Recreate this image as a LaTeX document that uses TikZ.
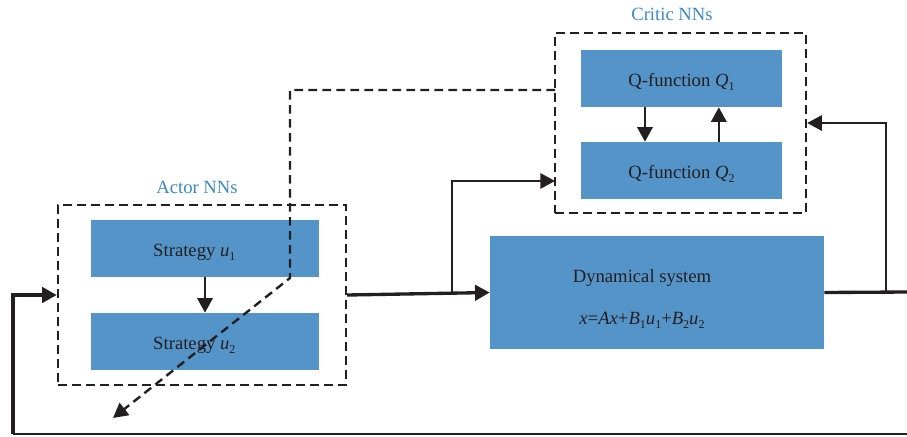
\documentclass[tikz,border=0pt]{standalone}
\usepackage{fontspec}
\setmainfont{Liberation Serif}
\usepackage{tikz}
\usetikzlibrary{arrows.meta,positioning}
\definecolor{nnBlue}{HTML}{5594C9}
\definecolor{nnLabel}{HTML}{3A8AC9}
\definecolor{nnInk}{HTML}{231F20}
\newcommand{\lowidx}[1]{\raisebox{-0.5ex}{\fontsize{9pt}{10pt}\selectfont #1}}
\newcommand{\vr}[1]{\textit{#1}}
\tikzset{
  nnblock/.style={rectangle,fill=nnBlue,text=nnInk,inner sep=0pt,
    minimum width=171pt,minimum height=42.75pt,text height=12pt,text depth=0pt,
    font=\fontsize{14pt}{17pt}\selectfont},
  qblock/.style={nnblock,minimum width=150.75pt},
  sysblock/.style={nnblock,minimum width=250.5pt,minimum height=84.75pt},
  systext/.style={text=nnInk,align=center,font=\fontsize{14pt}{17pt}\selectfont},
  nngroup/.style={rectangle,draw=nnInk,line width=1.8pt,dash pattern=on 6.5pt off 4pt,
    inner sep=0pt,minimum height=135pt},
  grouplabel/.style={text=nnLabel,font=\fontsize{14pt}{17pt}\selectfont},
  arrow/.style={-{Triangle[length=11pt,width=11.5pt]},line width=1.9pt,draw=nnInk},
  thickline/.style={line width=2.5pt,draw=nnInk},
  thinline/.style={line width=1.6pt,draw=nnInk},
  dashline/.style={line width=1.8pt,draw=nnInk,dash pattern=on 6.5pt off 4pt}
}
\begin{document}
\begin{tikzpicture}[x=0.75pt,y=-0.75pt]
  \useasboundingbox (0,0) rectangle (907,436);
  % actor side
  \node[nngroup,minimum width=216pt] (actor) at (202,295) {};
  \node[grouplabel] (actorlbl) at (197,187) {Actor NNs};
  \node[nnblock] (u1) at (205,248.5) {Strategy \vr{u}\lowidx{1}\hspace*{16pt}};
  \node[nnblock] (u2) at (205,341.5) {Strategy \vr{u}\lowidx{2}\hspace*{16pt}};
  % critic side
  \node[nngroup,minimum width=188.25pt] (critic) at (680.5,123) {};
  \node[grouplabel] (criticlbl) at (672,14) {Critic NNs};
  \node[qblock] (q1) at (681.5,78.5) {Q-function \vr{Q}\lowidx{1}};
  \node[qblock] (q2) at (681.5,170.5) {Q-function \vr{Q}\lowidx{2}};
  % plant
  \node[sysblock] (sys) at (657,292.5) {};
  \node[systext] (systxt) at (642,299) {Dynamical system\\[14pt]
    \vr{x}=\vr{Ax}+\vr{B}\lowidx{1}\vr{u}\lowidx{1}+\vr{B}\lowidx{2}\vr{u}\lowidx{2}};
  \coordinate (split) at (452,293.3);
  \coordinate (cin) at (555,181);
  \coordinate (tap) at (886,292);
  \coordinate (rout) at (907,292);
  \coordinate (rback) at (907,434);
  \coordinate (lcorner) at (13,434);
  \coordinate (qtap) at (555,90);
  \coordinate (dbend) at (290,90);
  \coordinate (dknee) at (290,278);
  \coordinate (dend) at (113,418);

  \draw[arrow] (u1) -- (u2);
  \draw[arrow] ([xshift=-27.4pt]q1.south) -- ([xshift=-27.4pt]q2.north);
  \draw[arrow] ([xshift=28pt]q2.north) -- ([xshift=28pt]q1.south);
  \draw[arrow,thickline] (actor.east) -- (sys.west);
  \draw[arrow,thinline] (split) |- (cin);
  \draw[thickline] (sys.east) -- (rout);
  \draw[arrow,thinline] (tap) |- (critic.east);
  \draw[thinline] (rback) -- (lcorner);
  \draw[arrow,thickline] (lcorner) |- (actor.west);
  \draw[arrow,dashline] (qtap) -- (dbend) -- (dknee) -- (dend);
\end{tikzpicture}
\end{document}
